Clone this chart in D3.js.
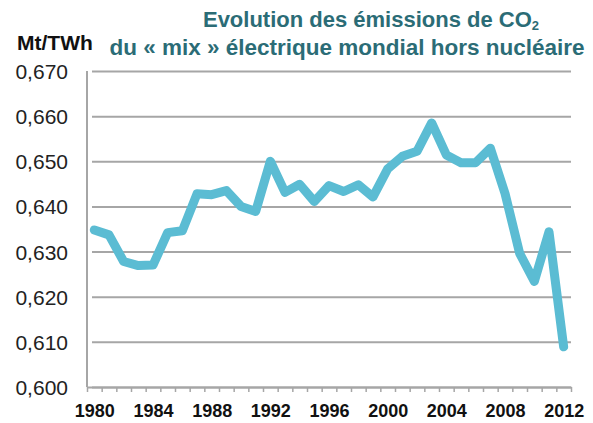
<!DOCTYPE html>
<html>
<head>
<meta charset="utf-8">
<script src="https://cdn.jsdelivr.net/npm/d3@7"></script>
<style>
  html, body { margin: 0; padding: 0; background: #fff; }
  svg { display: block; font-family: "Liberation Sans", Arial, sans-serif; }
</style>
</head>
<body>
<svg id="chart" width="593" height="423"></svg>
<script>
// --- Data ---
const years = d3.range(1980, 2013);
const emissions = [
  0.6348, 0.6337, 0.6278, 0.6269, 0.6270, 0.6342, 0.6346, 0.6428, 0.6426, 0.6435,
  0.6400, 0.6389, 0.6500, 0.6431, 0.6449, 0.6411, 0.6446, 0.6433, 0.6448, 0.6421,
  0.6483, 0.6511, 0.6522, 0.6585, 0.6514, 0.6497, 0.6497, 0.6529, 0.6429, 0.6296,
  0.6234, 0.6344, 0.6089
];
const yTicks = [0.600, 0.610, 0.620, 0.630, 0.640, 0.650, 0.660, 0.670];
const xLabels = [1980, 1984, 1988, 1992, 1996, 2000, 2004, 2008, 2012];
const titleLines = ["Evolution des émissions de CO", "du « mix » électrique mondial hors nucléaire"];
const unitLabel = "Mt/TWh";

const GRID = "#a6a6a6";
const LINE = "#5bbcd3";
const TITLE = "#2b6c76";

const svg = d3.select("#chart");

// --- Scales ---
const x = d3.scaleLinear()
    .domain([years[0] - 0.5, years[years.length - 1] + 0.5])
    .range([87, 571]);
const y = d3.scaleLinear()
    .domain([0.600, 0.670])
    .range([387, 71]);

const fmt = v => d3.format(".3f")(v).replace(".", ",");

// --- Gridlines + y labels ---
const yAxis = svg.append("g")
    .attr("transform", "translate(87,0)")
    .call(d3.axisLeft(y).tickValues(yTicks).tickSize(-(571 - 87)).tickSizeOuter(0).tickFormat(fmt));
yAxis.select(".domain").remove();
yAxis.selectAll(".tick line")
    .attr("x1", 5)
    .attr("stroke", GRID)
    .attr("stroke-width", 2);
yAxis.selectAll(".tick text")
    .attr("x", -19)
    .attr("dy", "0.36em")
    .attr("fill", "#222")
    .style("font-size", "21px");

// y axis line
svg.append("line")
    .attr("x1", 87).attr("x2", 87)
    .attr("y1", y(0.670)).attr("y2", y(0.600))
    .attr("stroke", GRID).attr("stroke-width", 2);

// --- x axis: ticks between categories ---
const xTickG = svg.append("g")
    .attr("transform", `translate(0,${y(0.600)})`)
    .call(d3.axisBottom(x)
        .tickValues(d3.range(years[0] - 0.5, years[years.length - 1] + 1, 1))
        .tickSize(5).tickSizeOuter(0).tickFormat(""));
xTickG.select(".domain").attr("stroke", GRID).attr("stroke-width", 2);
xTickG.selectAll(".tick line").attr("stroke", GRID).attr("stroke-width", 1.5);

const xLabG = svg.append("g")
    .attr("transform", `translate(0,${y(0.600)})`)
    .call(d3.axisBottom(x).tickValues(xLabels).tickSize(0).tickFormat(d3.format("d")));
xLabG.select(".domain").remove();
xLabG.selectAll(".tick text")
    .attr("y", 17)
    .attr("fill", "#111")
    .style("font-size", "18px")
    .style("font-weight", "bold");

// --- Line ---
const line = d3.line()
    .x((d, i) => x(years[i]))
    .y(d => y(d));
svg.append("path")
    .datum(emissions)
    .attr("d", line)
    .attr("fill", "none")
    .attr("stroke", LINE)
    .attr("stroke-width", 9)
    .attr("stroke-linejoin", "round")
    .attr("stroke-linecap", "round");

// --- Titles ---
const t1 = svg.append("text")
    .attr("x", 371).attr("y", 27)
    .attr("text-anchor", "middle")
    .attr("fill", TITLE)
    .style("font-size", "22px")
    .style("font-weight", "bold");
t1.append("tspan").text(titleLines[0]);
t1.append("tspan").attr("dy", 3).style("font-size", "13px").text("2");

svg.append("text")
    .attr("x", 347).attr("y", 55)
    .attr("text-anchor", "middle")
    .attr("fill", TITLE)
    .style("font-size", "22.5px")
    .style("font-weight", "bold")
    .text(titleLines[1]);

svg.append("text")
    .attr("x", 17).attr("y", 50)
    .attr("fill", "#111")
    .style("font-size", "21px")
    .style("font-weight", "bold")
    .text(unitLabel);
</script>
</body>
</html>
